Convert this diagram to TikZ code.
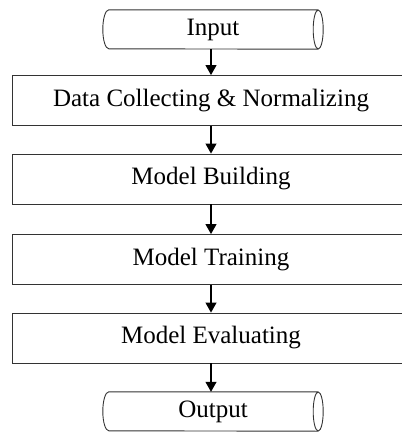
\documentclass[tikz,border=0pt]{standalone}
\usepackage{fontspec}
\setmainfont{Liberation Serif}
\usetikzlibrary{arrows.meta}
% outline of a horizontal drum: curved left end, full ellipse on the right
\newcommand\drumoutline[1]{%
  \draw[outline] ([xshift=6pt]#1.north west)
      arc[start angle=90,end angle=270,x radius=6pt,y radius=19.5pt]
      -- ([xshift=-5pt]#1.south east)
    ([xshift=-5pt]#1.north east) -- ([xshift=6pt]#1.north west)
    ([xshift=-5pt]#1.east) ellipse[x radius=5pt,y radius=19.5pt];}
\begin{document}
\begin{tikzpicture}[x=1pt,y=-1pt,
  outline/.style={draw=black!80, line width=0.9pt},
  stage/.style={outline, minimum width=398pt, minimum height=50pt,
    inner sep=0pt, font=\fontsize{25}{29}\selectfont},
  terminal/.style={minimum width=220pt, minimum height=39pt,
    inner sep=0pt, font=\fontsize{25}{29}\selectfont},
  flow/.style={line width=1.1pt, -{Triangle[length=10pt,width=11pt]}}]
\useasboundingbox (0,0) rectangle (402,432);
\begin{scope}
\clip (0,0) rectangle (402,432);
\node[terminal] (in) at (213,29.5) {Input};
\node[stage] (s1) at (211,100.5) {Data Collecting \& Normalizing};
\node[stage] (s2) at (211,179) {Model Building};
\node[stage] (s3) at (211,259.5) {Model Training};
\node[stage] (s4) at (211,338) {Model Evaluating};
\node[terminal] (out) at (213,411.5) {Output};
\drumoutline{in}
\drumoutline{out}
\draw[flow] (in.south -| s1.north) -- (s1.north);
\draw[flow] (s1) -- (s2);
\draw[flow] (s2) -- (s3);
\draw[flow] (s3) -- (s4);
\draw[flow] (s4.south) -- (out.north -| s4.south);
\end{scope}
\end{tikzpicture}
\end{document}
